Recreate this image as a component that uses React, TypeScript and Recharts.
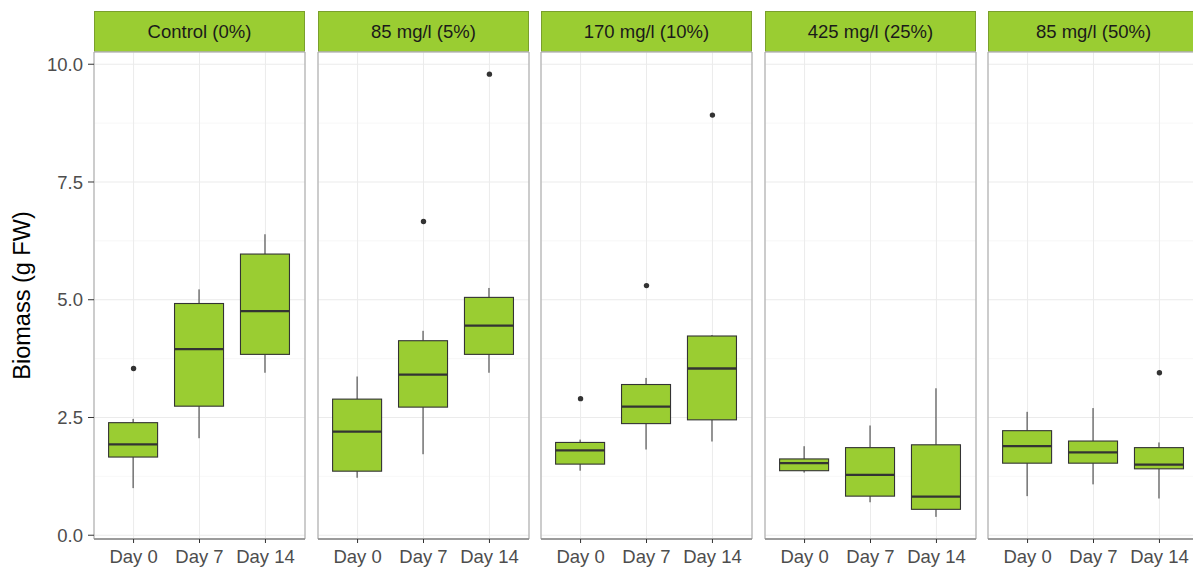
import { ComposedChart, Bar, Scatter, XAxis, YAxis, CartesianGrid, ReferenceArea } from 'recharts'

const treatments = ['Control (0%)', '85 mg/l (5%)', '170 mg/l (10%)', '425 mg/l (25%)', '85 mg/l (50%)']
const days = ['Day 0', 'Day 7', 'Day 14']

// one row per treatment, one value per day
const whiskerLow = [
  [1.0, 2.06, 3.45],
  [1.22, 1.72, 3.45],
  [1.37, 1.82, 1.99],
  [1.33, 0.7, 0.39],
  [0.83, 1.08, 0.78],
]
const lowerQuartile = [
  [1.66, 2.74, 3.84],
  [1.36, 2.72, 3.84],
  [1.51, 2.37, 2.45],
  [1.37, 0.83, 0.55],
  [1.53, 1.53, 1.41],
]
const medians = [
  [1.93, 3.95, 4.76],
  [2.2, 3.41, 4.45],
  [1.8, 2.73, 3.54],
  [1.53, 1.28, 0.82],
  [1.89, 1.76, 1.5],
]
const upperQuartile = [
  [2.39, 4.92, 5.97],
  [2.89, 4.13, 5.05],
  [1.97, 3.2, 4.23],
  [1.62, 1.86, 1.92],
  [2.22, 2.0, 1.86],
]
const whiskerHigh = [
  [2.47, 5.22, 6.39],
  [3.37, 4.34, 5.25],
  [2.03, 3.34, 4.25],
  [1.89, 2.33, 3.12],
  [2.62, 2.7, 1.97],
]
// [day index, value]
const outliers = [
  [[0, 3.54]],
  [[1, 6.66], [2, 9.79]],
  [[0, 2.9], [1, 5.3], [2, 8.92]],
  [],
  [[2, 3.45]],
]
const yTicks = [0, 2.5, 5, 7.5, 10]
const yMinor = [1.25, 3.75, 6.25, 8.75]
const yDomain: [number, number] = [-0.08, 10.26]
const xDomain: [number, number] = [0.4, 3.6]

const FILL = '#9acd32'
const INK = '#333333'
const FONT = '"Liberation Sans", Arial, sans-serif'

const PANEL_W = 211
const YAXIS_W = 94
const panelLeft = (i: number) => Math.round(94 + i * 223.5)

function BoxShape(props: any) {
  const { x, y, width, height, payload } = props
  const top = Math.min(y, y + height)
  const bottom = Math.max(y, y + height)
  const span = payload.high - payload.low
  // y scale is linear, so box stats sit proportionally inside the whisker range
  const py = (v: number) => bottom - ((v - payload.low) / span) * (bottom - top)
  const cx = x + width / 2
  return (
    <g>
      <line x1={cx} x2={cx} y1={py(payload.high)} y2={py(payload.q3)} stroke={INK} strokeWidth={1} />
      <line x1={cx} x2={cx} y1={py(payload.q1)} y2={py(payload.low)} stroke={INK} strokeWidth={1} />
      <rect
        x={x}
        y={py(payload.q3)}
        width={width}
        height={py(payload.q1) - py(payload.q3)}
        fill={FILL}
        stroke={INK}
        strokeWidth={1.1}
      />
      <line x1={x} x2={x + width} y1={py(payload.median)} y2={py(payload.median)} stroke={INK} strokeWidth={2.3} />
    </g>
  )
}

function Panel({ index }: { index: number }) {
  const showY = index === 0
  const rows = days.map((_, d) => ({
    x: d + 1,
    low: whiskerLow[index][d],
    q1: lowerQuartile[index][d],
    median: medians[index][d],
    q3: upperQuartile[index][d],
    high: whiskerHigh[index][d],
    range: [whiskerLow[index][d], whiskerHigh[index][d]],
  }))
  const points = outliers[index].map(([d, v]) => ({ x: d + 1, y: v }))
  const width = showY ? YAXIS_W + PANEL_W + 1 : PANEL_W + 2
  const left = showY ? 0 : panelLeft(index) - 1

  return (
    <div style={{ position: 'absolute', left, top: 51 }}>
      <ComposedChart
        width={width}
        height={516}
        data={rows}
        margin={{ top: 1, right: 1, bottom: 0, left: showY ? 0 : 1 }}
        style={{ fontFamily: FONT }}
      >
        <CartesianGrid horizontalValues={yMinor} vertical={false} stroke="#f3f3f3" strokeWidth={0.7} />
        <CartesianGrid stroke="#ebebeb" strokeWidth={1} />
        <XAxis
          dataKey="x"
          type="number"
          domain={xDomain}
          allowDataOverflow
          ticks={[1, 2, 3]}
          tickFormatter={(v: number) => days[v - 1]}
          height={28}
          tickSize={4}
          tickMargin={7}
          tick={{ fill: '#4d4d4d', fontSize: 18.5 }}
          tickLine={{ stroke: INK }}
          axisLine={{ stroke: '#8c8c8c', strokeWidth: 1.5 }}
        />
        <YAxis
          type="number"
          domain={yDomain}
          allowDataOverflow
          ticks={yTicks}
          hide={!showY}
          width={YAXIS_W}
          tickFormatter={(v: number) => v.toFixed(1)}
          tickSize={6}
          tickMargin={5}
          tick={{ fill: '#4d4d4d', fontSize: 18.5 }}
          tickLine={{ stroke: INK }}
          axisLine={false}
          label={{
            value: 'Biomass (g FW)',
            angle: -90,
            position: 'insideLeft',
            offset: 22,
            fill: '#000',
            style: { textAnchor: 'middle', fontSize: 23.5 },
          }}
        />
        <ReferenceArea
          x1={xDomain[0]}
          x2={xDomain[1]}
          y1={yDomain[0]}
          y2={yDomain[1]}
          fill="none"
          stroke="#a3a3a3"
          strokeWidth={1}
        />
        <Bar dataKey="range" barSize={49} shape={BoxShape} isAnimationActive={false} />
        {points.length > 0 && (
          <Scatter
            data={points}
            dataKey="y"
            isAnimationActive={false}
            shape={(p: any) => <circle cx={p.cx} cy={p.cy} r={2.7} fill={INK} />}
          />
        )}
      </ComposedChart>
    </div>
  )
}

export default function App() {
  return (
    <div
      style={{
        position: 'absolute',
        left: 0,
        top: 0,
        width: 1193,
        height: 567,
        overflow: 'hidden',
        background: '#fff',
        fontFamily: FONT,
      }}
    >
      {treatments.map((t, i) => (
        <div
          key={t}
          style={{
            position: 'absolute',
            left: panelLeft(i),
            top: 11,
            width: PANEL_W,
            height: 41,
            boxSizing: 'border-box',
            background: FILL,
            border: '1px solid #7a9f2c',
            display: 'flex',
            alignItems: 'center',
            justifyContent: 'center',
            fontSize: 18.5,
            color: '#1a1a1a',
          }}
        >
          {t}
        </div>
      ))}
      {treatments.map((t, i) => (
        <Panel key={t} index={i} />
      ))}
    </div>
  )
}
